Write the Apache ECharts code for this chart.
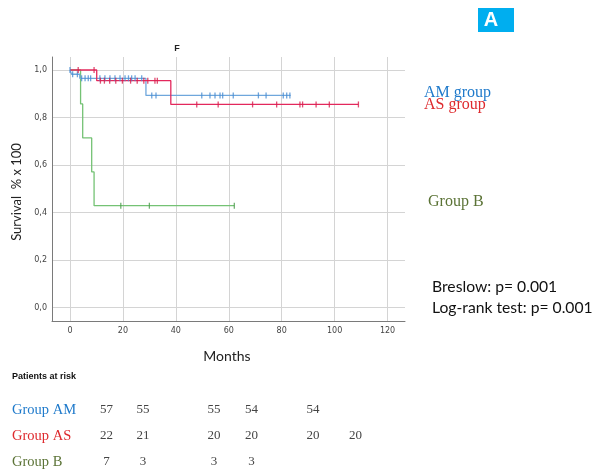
<!DOCTYPE html>
<html><head><meta charset="utf-8">
<script src="https://cdn.jsdelivr.net/npm/echarts@6/dist/echarts.min.js"></script>
<style>html,body{margin:0;padding:0;background:#fff}#c{width:603px;height:473px}</style>
</head><body><div id="c"></div>
<script>
// ---- data ----
const xTicks = [0, 20, 40, 60, 80, 100, 120];
const yTicks = [0, 0.2, 0.4, 0.6, 0.8, 1.0];
// Kaplan-Meier steps: time (months) and survival after the event
const amTimes = [0, 0.6, 3.7, 28.7, 83.4];
const amSurv  = [1, 0.982, 0.965, 0.893, 0.893];
const amCensor = [0, 1.0, 2.8, 4.4, 5.7, 6.9, 7.8, 11.3, 13.2, 15.1, 17, 18.9, 20.8, 22.1, 23.3, 24.6, 27.1, 30.9, 32.5, 49.8, 52.9, 54.8, 56.7, 57.7, 61.7, 71.2, 74.1, 80.6, 81.9, 83.1];
const asTimes = [0, 10.1, 38.1, 109];
const asSurv  = [1, 0.955, 0.855, 0.855];
const asCensor = [3.1, 9.1, 11.5, 13, 15, 17.3, 19.8, 22.9, 25.4, 27.9, 29.4, 32.1, 33, 47.9, 56, 69, 78.1, 86.9, 87.9, 93, 98, 109];
const bTimes = [0, 4.0, 4.8, 8.2, 9.1, 62.1];
const bSurv  = [1, 0.857, 0.714, 0.571, 0.429, 0.429];
const bCensor = [19.2, 30, 62.1];
const legendLabels = ['AM group', 'AS group', 'Group B'];
const statLabels = ['Breslow: p= 0.001', 'Log-rank test: p= 0.001'];
const riskGroups = ['Group AM', 'Group AS', 'Group B'];
const riskAM = [57, 55, 55, 54, 54];
const riskAS = [22, 21, 20, 20, 20, 20];
const riskB  = [7, 3, 3, 3];

// ---- helpers ----
function pairs(t, s) { return t.map((v, i) => [v, s[i]]); }
function survAt(t, s, x) { let v = s[0]; for (let i = 0; i < t.length; i++) if (t[i] <= x) v = s[i]; return v; }
function cens(c, t, s) { return c.map(x => [x, survAt(t, s, x)]); }

const colAM = '#6fa7dc', colAMm = '#4a8dd2';
const colAS = '#e3285c', colASm = '#d81e4e';
const colB = '#74c274', colBm = '#4d9c4d';

const chart = echarts.init(document.getElementById('c'), null, { renderer: 'canvas' });
const serif = '"Liberation Serif", "DejaVu Serif", serif';
const sans = 'Lato, "Open Sans", sans-serif';

const colX = [106.5, 143, 214, 251.5, 313, 355.5];
const rowY = [410, 436, 462];
const riskRows = [riskAM, riskAS, riskB];
const riskColors = ['#1f7acb', '#de2a2e', '#5b7336'];
const graphics = [];
riskRows.forEach((row, r) => {
  row.forEach((n, c) => {
    graphics.push({ type: 'text', x: colX[c], y: rowY[r], style: { text: String(n), font: '13px ' + serif, fill: '#444', align: 'center', verticalAlign: 'middle' } });
  });
  graphics.push({ type: 'text', x: 12, y: rowY[r], style: { text: riskGroups[r], font: '14.5px ' + serif, fill: riskColors[r], align: 'left', verticalAlign: 'middle' } });
});
graphics.push(
  { type: 'text', x: 12, y: 377, style: { text: 'Patients at risk', font: 'bold 9px "Liberation Sans", Arial, sans-serif', fill: '#111', align: 'left', verticalAlign: 'middle' } },
  { type: 'text', x: 424, y: 93, style: { text: legendLabels[0], font: '16px ' + serif, fill: '#1f7acb', align: 'left', verticalAlign: 'middle' } },
  { type: 'text', x: 424, y: 105, style: { text: legendLabels[1], font: '16px ' + serif, fill: '#de2a2e', align: 'left', verticalAlign: 'middle' } },
  { type: 'text', x: 428, y: 202, style: { text: legendLabels[2], font: '16px ' + serif, fill: '#5b7336', align: 'left', verticalAlign: 'middle' } },
  { type: 'text', x: 432, y: 287, style: { text: statLabels[0], font: '15.7px ' + sans, fill: '#111', align: 'left', verticalAlign: 'middle' } },
  { type: 'text', x: 432, y: 308, style: { text: statLabels[1], font: '15.7px ' + sans, fill: '#111', align: 'left', verticalAlign: 'middle' } },
  { type: 'text', x: 227, y: 356, style: { text: 'Months', font: '14px ' + sans, fill: '#222', align: 'center', verticalAlign: 'middle' } },
  { type: 'text', x: 17, y: 192, rotation: Math.PI / 2, style: { text: 'Survival  % x 100', font: '13px ' + sans, fill: '#222', align: 'center', verticalAlign: 'middle' } },
  { type: 'text', x: 177, y: 49, style: { text: 'F', font: 'bold 9px "Liberation Sans", Arial, sans-serif', fill: '#222', align: 'center', verticalAlign: 'middle' } },
  { type: 'rect', shape: { x: 478, y: 8, width: 36, height: 24 }, style: { fill: '#00aeef' } },
  { type: 'text', x: 491, y: 20, style: { text: 'A', font: 'bold 20px "Liberation Sans", Arial, sans-serif', fill: '#fff', align: 'center', verticalAlign: 'middle' } }
);

const option = {
  animation: false,
  backgroundColor: '#fff',
  grid: { left: 52, right: 198, top: 57, bottom: 152, containLabel: false },
  xAxis: {
    type: 'value', min: -6.8, max: 126.6,
    axisLine: { show: true, onZero: false, lineStyle: { color: '#7a7a7a', width: 1 } },
    axisTick: { show: false, customValues: xTicks },
    axisLabel: { customValues: xTicks, color: '#444', fontSize: 8, margin: 6, fontFamily: '"DejaVu Sans", sans-serif' },
    splitLine: { show: true, lineStyle: { color: '#d4d4d4', width: 1 } }
  },
  yAxis: {
    type: 'value', min: -0.056, max: 1.0546,
    axisLine: { show: true, onZero: false, lineStyle: { color: '#7a7a7a', width: 1 } },
    axisTick: { show: false, customValues: yTicks },
    axisLabel: { customValues: yTicks, color: '#444', fontSize: 8, margin: 5, fontFamily: '"DejaVu Sans", sans-serif',
      formatter: v => v.toFixed(1).replace('.', ',') },
    splitLine: { show: true, lineStyle: { color: '#d4d4d4', width: 1 } }
  },
  graphic: graphics,
  series: [
    { type: 'line', step: 'end', data: pairs(bTimes, bSurv), showSymbol: false, lineStyle: { color: colB, width: 1.3 }, z: 3 },
    { type: 'line', step: 'end', data: pairs(amTimes, amSurv), showSymbol: false, lineStyle: { color: colAM, width: 1.3 }, z: 4 },
    { type: 'line', step: 'end', data: pairs(asTimes, asSurv), showSymbol: false, lineStyle: { color: colAS, width: 1.3 }, z: 5 },
    { type: 'scatter', data: cens(bCensor, bTimes, bSurv), symbol: 'rect', symbolSize: [1.3, 6], itemStyle: { color: colBm }, z: 6 },
    { type: 'scatter', data: cens(amCensor, amTimes, amSurv), symbol: 'rect', symbolSize: [1.3, 6], itemStyle: { color: colAMm }, z: 6 },
    { type: 'scatter', data: cens(asCensor, asTimes, asSurv), symbol: 'rect', symbolSize: [1.3, 6], itemStyle: { color: colASm }, z: 7 }
  ]
};
chart.setOption(option);
</script></body></html>
